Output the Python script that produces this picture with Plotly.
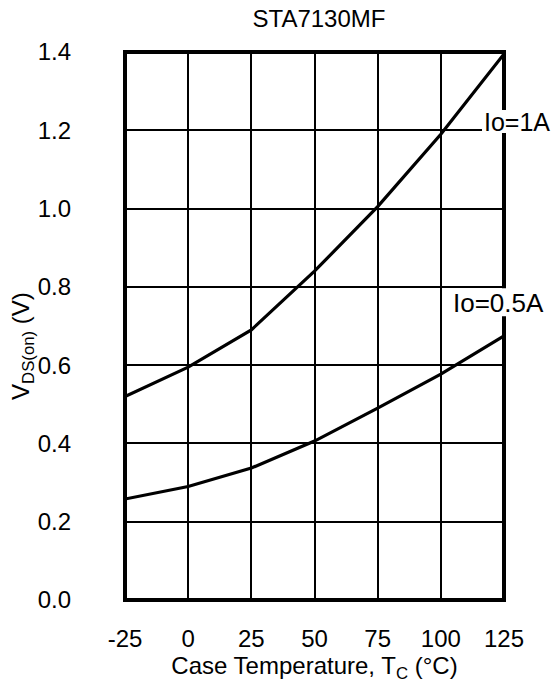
import plotly.graph_objects as go

temps = [-25, 0, 25, 50, 75, 100, 125]
v_1a = [0.52, 0.595, 0.69, 0.84, 1.005, 1.19, 1.395]
v_05a = [0.258, 0.29, 0.337, 0.406, 0.49, 0.577, 0.675]
x_ticks = [-25, 0, 25, 50, 75, 100, 125]
y_ticks = [0.0, 0.2, 0.4, 0.6, 0.8, 1.0, 1.2, 1.4]
curve_labels = ["Io=1A", "Io=0.5A"]

FONT = "Liberation Sans, Arial, sans-serif"
FS = 24

fig = go.Figure()
fig.add_trace(go.Scatter(x=temps, y=v_1a, mode="lines",
                         line=dict(color="black", width=3.2), showlegend=False))
fig.add_trace(go.Scatter(x=temps, y=v_05a, mode="lines",
                         line=dict(color="black", width=3.2), showlegend=False))

# frame
fig.add_shape(type="rect", xref="paper", yref="paper", x0=0, y0=0, x1=1, y1=1,
              line=dict(color="black", width=4), layer="above")
# white boxes behind curve labels
fig.add_shape(type="rect", xref="paper", yref="paper", x0=0.942, x1=1.15,
              y0=0.852, y1=0.894, line=dict(width=0), fillcolor="white", layer="above")
fig.add_shape(type="rect", xref="paper", yref="paper", x0=0.855, x1=1.15,
              y0=0.518, y1=0.569, line=dict(width=0), fillcolor="white", layer="above")

fig.add_annotation(x=0.942, xref="paper", y=0.873, yref="paper", text=curve_labels[0],
                   showarrow=False, xanchor="left", yanchor="middle",
                   font=dict(family=FONT, size=FS + 1, color="black"))
fig.add_annotation(x=0.86, xref="paper", y=0.542, yref="paper", text=curve_labels[1],
                   showarrow=False, xanchor="left", yanchor="middle",
                   font=dict(family=FONT, size=FS + 2, color="black"))

# y axis title as annotation for exact placement
fig.add_annotation(x=(22 - 125) / 379, xref="paper", y=0.4635, yref="paper",
                   text="V<sub>DS(on)</sub> (V)", textangle=-90, showarrow=False,
                   xanchor="center", yanchor="middle",
                   font=dict(family=FONT, size=FS, color="black"))

fig.update_layout(
    width=556, height=689,
    margin=dict(l=125, r=52, t=52, b=89),
    paper_bgcolor="white", plot_bgcolor="white",
    font=dict(family=FONT, size=FS, color="black"),
    title=dict(text="STA7130MF", x=(319 / 556), xanchor="center", y=1 - 19 / 689,
               yanchor="middle", font=dict(family=FONT, size=FS, color="black")),
    xaxis=dict(range=[-25, 125], tickvals=x_ticks, ticktext=[str(t) for t in x_ticks],
               showgrid=True, gridcolor="black", gridwidth=1.6, zeroline=False,
               showline=False, ticks="", ticklabelstandoff=22,
               tickfont=dict(family=FONT, size=FS),
               title=dict(text="Case Temperature, T<sub>C</sub> (°C)", standoff=4,
                          font=dict(family=FONT, size=FS))),
    yaxis=dict(range=[0, 1.4], tickvals=y_ticks, ticktext=[f"{v:.1f}" for v in y_ticks],
               showgrid=True, gridcolor="black", gridwidth=1.6, zeroline=False,
               showline=False, ticks="", ticklabelstandoff=53,
               tickfont=dict(family=FONT, size=FS)),
)

fig.write_html("out.html", config={"displayModeBar": False},
               post_script="document.body.style.margin='0';")
